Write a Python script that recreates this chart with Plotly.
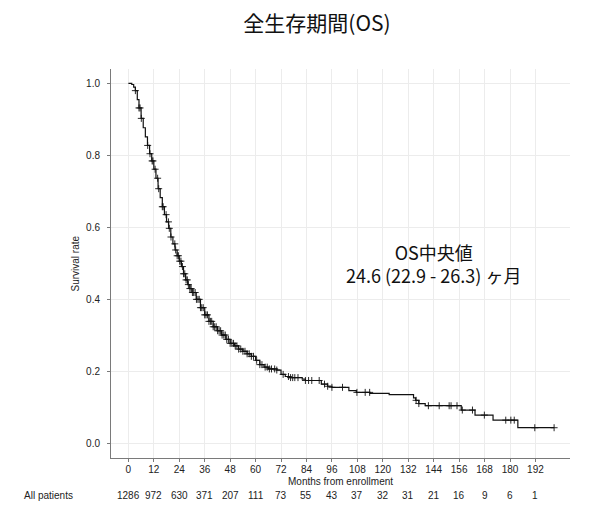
import numpy as np
import plotly.graph_objects as go

# Kaplan-Meier step curve (months, survival)
km_time = [0, 1.6, 2.5, 3.3, 4.2, 5.0, 6.0, 7.0, 8.0, 9.0, 10.0, 11.0, 12.0, 13.0, 14.0,
           15.0, 16.0, 17.0, 18.0, 19.0, 20.0, 21.0, 22.0, 23.0, 24.0, 25.0, 26.0, 27.0,
           28.0, 29.0, 30, 32, 34, 36, 38, 40, 42, 44, 46, 48, 50, 52, 54, 56, 58, 60,
           62, 64, 66, 70, 72, 74, 76, 82, 83.5, 91, 94, 96, 104, 107.5, 114, 123,
           134.5, 135.5, 137, 140, 157, 163.5, 172, 183.7, 200.8]
km_surv = [1.0, 0.997, 0.99, 0.98, 0.955, 0.932, 0.903, 0.877, 0.852, 0.828, 0.805,
           0.785, 0.762, 0.737, 0.708, 0.683, 0.658, 0.636, 0.616, 0.598, 0.574, 0.555,
           0.538, 0.522, 0.507, 0.492, 0.472, 0.455, 0.442, 0.431, 0.420, 0.401, 0.378,
           0.358, 0.340, 0.325, 0.314, 0.302, 0.290, 0.279, 0.272, 0.263, 0.257, 0.250,
           0.243, 0.232, 0.220, 0.213, 0.208, 0.205, 0.193, 0.187, 0.184, 0.180, 0.176,
           0.166, 0.160, 0.157, 0.148, 0.143, 0.140, 0.137, 0.128, 0.121, 0.112, 0.106,
           0.094, 0.080, 0.066, 0.045, 0.045]

# censoring times (months)
censor_time = [3.3, 5.0, 5.5, 6.1, 9.1, 10.2, 11.2, 11.6, 12.6, 13.8, 14.3, 16.0, 16.4,
               17.8, 18.9, 19.3, 20.1, 21.9, 22.3, 23.0, 23.6, 24.2, 24.8, 25.5, 26.0,
               26.6, 27.2, 27.8, 28.3, 29.0, 29.6, 30.2, 30.8, 31.5, 32.1, 32.8, 33.4,
               34.0, 34.6, 35.3, 36.0, 36.6, 37.3, 38.0, 38.7, 39.3, 40.0, 40.7, 41.4,
               42.1, 42.8, 43.5, 44.2, 45.0, 45.7, 46.4, 47.2, 48.0, 48.8, 49.6, 50.4,
               51.2, 52.0, 53.0, 54.0, 55.0, 56.0, 57.0, 58.0, 59.0, 60.5, 62, 63, 64.5,
               65.5, 66.5, 67.5, 69, 70, 73, 75.5, 76.5, 77.5, 78.5, 80, 83.5, 85, 86.5,
               90, 92.5, 94, 96, 101, 107.8, 111.7, 113.8, 135.7, 137, 141.5, 146.6,
               151.3, 152.2, 155, 157.5, 162.3, 167.9, 178, 180.4, 182, 191.7, 200.8]

tick_months = [0, 12, 24, 36, 48, 60, 72, 84, 96, 108, 120, 132, 144, 156, 168, 180, 192]
at_risk = [1286, 972, 630, 371, 207, 111, 73, 55, 43, 37, 32, 31, 21, 16, 9, 6, 1]
y_ticks = [0.0, 0.2, 0.4, 0.6, 0.8, 1.0]

title_text = "全生存期間(OS)"
median_text = "OS中央値<br>24.6 (22.9 - 26.3) ヶ月"

# survival level at each censor time (step lookup on the KM curve)
kt = np.array(km_time)
ks = np.array(km_surv)
idx = np.searchsorted(kt, np.array(censor_time), side="right") - 1
censor_surv = ks[np.clip(idx, 0, len(ks) - 1)]

fig = go.Figure()
fig.add_trace(go.Scatter(x=km_time, y=km_surv, mode="lines", line_shape="hv",
                         line=dict(color="#111111", width=1.2), showlegend=False,
                         hoverinfo="skip"))
fig.add_trace(go.Scatter(x=censor_time, y=censor_surv, mode="markers",
                         marker=dict(symbol="cross-thin", size=5,
                                     line=dict(color="#111111", width=0.9)),
                         showlegend=False, hoverinfo="skip"))

# page has an 8px body margin; figure coordinates are page coordinates minus 8
OFF = 8
W, H = 594, 512
L, R, T, B = 111 - OFF, 32, 69 - OFF, 62
pw = W - L - R
ph = H - T - B
plot_bottom = H - B  # figure px


def px_x(page_x):
    return (page_x - OFF - L) / pw


def px_y(page_y):
    return (plot_bottom - (page_y - OFF)) / ph


tick_font = dict(family="Liberation Sans, Arial, sans-serif", size=10, color="#222222")

axis_common = dict(showline=True, linecolor="#7a7a7a", linewidth=1, ticks="outside",
                   ticklen=3, tickcolor="#7a7a7a", showgrid=True, gridcolor="#ececec",
                   gridwidth=1, zeroline=False, mirror=False, tickfont=tick_font)

fig.update_xaxes(range=[-8.2, 208.3], tickvals=tick_months,
                 ticktext=[str(m) for m in tick_months], ticklabelstandoff=-1,
                 **axis_common)
fig.update_yaxes(range=[-0.039, 1.040], tickvals=y_ticks,
                 ticktext=[f"{v:.1f}" for v in y_ticks], ticklabelstandoff=5,
                 **axis_common)

annotations = []
annotations.append(dict(text="Months from enrollment", xref="paper", yref="paper",
                        x=0.5, y=px_y(481.5), xanchor="center", yanchor="middle",
                        showarrow=False, font=tick_font))
annotations.append(dict(text="Survival rate", xref="paper", yref="paper",
                        x=px_x(75), y=0.5, xanchor="center", yanchor="middle",
                        textangle=-90, showarrow=False, font=tick_font))
risk_y = px_y(495)
annotations.append(dict(text="All patients", xref="paper", yref="paper",
                        x=px_x(22), y=risk_y, xanchor="left", yanchor="middle",
                        showarrow=False, font=tick_font))
for m, n in zip(tick_months, at_risk):
    annotations.append(dict(text=str(n), xref="x", yref="paper", x=m, y=risk_y,
                            xanchor="center", yanchor="middle", showarrow=False,
                            font=tick_font))
med_font = dict(family="Noto Sans CJK JP, Noto Sans, sans-serif", size=18, color="#111111")
annotations.append(dict(text=median_text, xref="paper", yref="paper",
                        x=px_x(433), y=px_y(263), xanchor="center", yanchor="middle",
                        showarrow=False, align="center", font=med_font))

fig.update_layout(
    width=W, height=H,
    margin=dict(l=L, r=R, t=T, b=B, pad=0),
    paper_bgcolor="white", plot_bgcolor="white",
    title=dict(text=title_text, x=(317 - OFF) / W, xref="container", xanchor="center",
               y=1 - (24 - OFF) / H, yref="container", yanchor="middle",
               font=dict(family="Noto Sans CJK JP, Noto Sans, sans-serif", size=21,
                         color="#111111")),
    annotations=annotations,
)

fig.write_html("out.html")
